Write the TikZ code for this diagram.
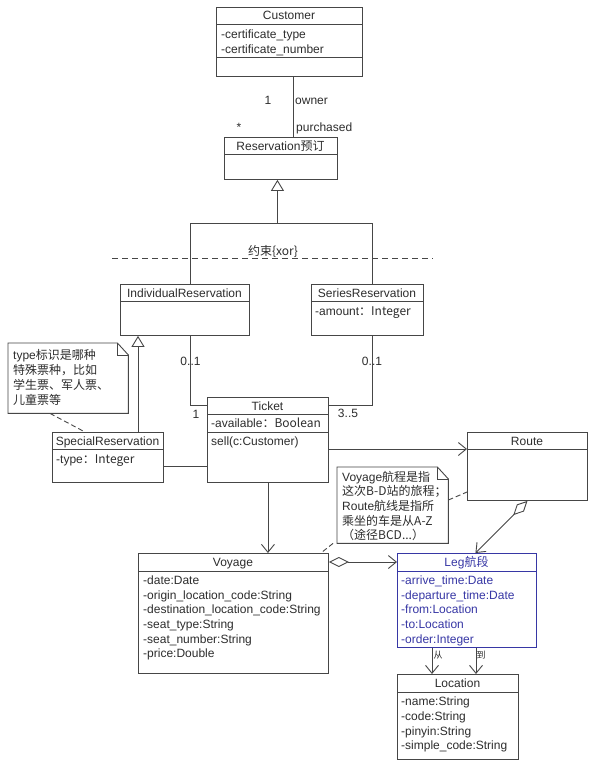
\documentclass[tikz,border=0pt]{standalone}
\usepackage{fontspec}
\setmainfont{Liberation Sans}
\newfontfamily\cjk{Noto Sans CJK SC}
\usetikzlibrary{arrows.meta,calc}
\definecolor{lc}{RGB}{70,70,70}
\definecolor{tc}{RGB}{45,45,45}
\definecolor{legc}{RGB}{55,55,165}
\newcommand\hdiv[3][lc]{\draw[draw=#1,line width=0.9pt] ([yshift=-#3pt]#2.north west) -- ([yshift=-#3pt]#2.north east);}
\begin{document}
\begin{tikzpicture}[x=1pt,y=-1pt,
  box/.style={draw=lc,line width=0.9pt,fill=white,anchor=north west,inner sep=0pt},
  txt/.style={inner sep=0pt,font=\fontsize{12}{14}\selectfont,text=tc,anchor=west,text height=10pt,text depth=2pt},
  ttl/.style={txt,anchor=center},
  lbl/.style={txt,anchor=center},
  conn/.style={draw=lc,line width=0.9pt},
  oarrow/.style={conn,-{Straight Barb[length=8pt,width=13pt,line width=0.9pt]}},
  gen/.style={conn,-{Triangle[open,length=11pt,width=13pt,fill=white,line width=0.9pt]}},
  aggr/.style={conn,{Diamond[open,length=20pt,width=10pt,fill=white,line width=0.9pt]}-{Straight Barb[length=8pt,width=13pt,line width=0.9pt]}},
  notedash/.style={draw=lc,line width=0.9pt,dash pattern=on 5pt off 3pt},
  notebox/.style={anchor=north west,inner sep=0pt}
]
\fill[white] (0,0) rectangle (593,768);
\useasboundingbox (0,0) rectangle (593,768);

% ---------- Customer
\node[box,minimum width=146pt,minimum height=69pt] (cust) at (216,7) {};
\hdiv{cust}{17}\hdiv{cust}{50}
\node[ttl] (custT) at (289,15.5) {Customer};
\node[txt] (custA1) at (221,34) {-certificate\_type};
\node[txt] (custA2) at (221,49) {-certificate\_number};

% ---------- Reservation
\node[box,minimum width=113pt,minimum height=42pt] (res) at (224,137) {};
\hdiv{res}{17}
\node[ttl] (resT) at (280.5,146) {Reservation\cjk{预订}};

% ---------- IndividualReservation
\node[box,minimum width=129pt,minimum height=51pt] (ind) at (120,284) {};
\hdiv{ind}{17}
\node[ttl] (indT) at (184.5,293) {IndividualReservation};

% ---------- SeriesReservation
\node[box,minimum width=112pt,minimum height=51pt] (ser) at (311,284) {};
\hdiv{ser}{17}
\node[ttl] (serT) at (367,293) {SeriesReservation};
\node[txt] (serA1) at (315,311) {-amount\cjk{：}Integer};

% ---------- Ticket
\node[box,minimum width=121pt,minimum height=85pt] (ticket) at (207,397) {};
\hdiv{ticket}{17}\hdiv{ticket}{35}
\node[ttl] (ticketT) at (267.5,406) {Ticket};
\node[txt] (ticketA1) at (211,423) {-available\cjk{：}Boolean};
\node[txt] (ticketM1) at (211,441) {sell(c:Customer)};

% ---------- SpecialReservation
\node[box,minimum width=111pt,minimum height=50pt] (spec) at (52,432) {};
\hdiv{spec}{17}
\node[ttl] (specT) at (107.5,441) {SpecialReservation};
\node[txt] (specA1) at (56,459) {-type\cjk{：}Integer};

% ---------- Route
\node[box,minimum width=120pt,minimum height=68pt] (route) at (467,432) {};
\hdiv{route}{17}
\node[ttl] (routeT) at (527,441) {Route};

% ---------- Voyage
\node[box,minimum width=190pt,minimum height=120pt] (voy) at (138,553) {};
\hdiv{voy}{18}
\node[ttl] (voyT) at (233,562.5) {Voyage};
\node[txt] (voyA1) at (143,580) {-date:Date};
\node[txt] (voyA2) at (143,595) {-origin\_location\_code:String};
\node[txt] (voyA3) at (143,609.5) {-destination\_location\_code:String};
\node[txt] (voyA4) at (143,624) {-seat\_type:String};
\node[txt] (voyA5) at (143,639) {-seat\_number:String};
\node[txt] (voyA6) at (143,653.5) {-price:Double};

% ---------- Leg
\node[box,draw=legc,minimum width=139pt,minimum height=94pt] (leg) at (397,553) {};
\hdiv[legc]{leg}{18}
\node[ttl,text=legc] (legT) at (466.5,562.5) {Leg\cjk{航段}};
\node[txt,text=legc] (legA1) at (401,580) {-arrive\_time:Date};
\node[txt,text=legc] (legA2) at (401,595) {-departure\_time:Date};
\node[txt,text=legc] (legA3) at (401,609.5) {-from:Location};
\node[txt,text=legc] (legA4) at (401,624) {-to:Location};
\node[txt,text=legc] (legA5) at (401,639) {-order:Integer};

% ---------- Location
\node[box,minimum width=121pt,minimum height=85pt] (loc) at (397,674) {};
\hdiv{loc}{18}
\node[ttl] (locT) at (457.5,683.5) {Location};
\node[txt] (locA1) at (401,701) {-name:String};
\node[txt] (locA2) at (401,716) {-code:String};
\node[txt] (locA3) at (401,731) {-pinyin:String};
\node[txt] (locA4) at (401,745.5) {-simple\_code:String};

% ---------- Notes
\node[notebox,minimum width=120pt,minimum height=70pt] (n1) at (8,343) {};
\draw[conn,fill=white] (n1.north west) -- ([xshift=-11pt]n1.north east) -- ([yshift=-12pt]n1.north east) -- (n1.south east) -- (n1.south west) -- cycle;
\draw[conn] ([xshift=-11pt]n1.north east) |- ([yshift=-12pt]n1.north east);
\node[txt] (n1a) at (13,355.5) {type\cjk{标识是哪种}};
\node[txt] (n1b) at (13,370.5) {\cjk{特殊票种，比如}};
\node[txt] (n1c) at (13,385.5) {\cjk{学生票、军人票、}};
\node[txt] (n1d) at (13,400) {\cjk{儿童票等}};

\node[notebox,minimum width=111pt,minimum height=76pt] (n2) at (337,467) {};
\draw[conn,fill=white] (n2.north west) -- ([xshift=-11pt]n2.north east) -- ([yshift=-12pt]n2.north east) -- (n2.south east) -- (n2.south west) -- cycle;
\draw[conn] ([xshift=-11pt]n2.north east) |- ([yshift=-12pt]n2.north east);
\node[txt] (n2a) at (342,477) {Voyage\cjk{航程是指}};
\node[txt] (n2b) at (342,491.5) {\cjk{这次}B-D\cjk{站的旅程；}};
\node[txt] (n2c) at (342,506) {Route\cjk{航线是指所}};
\node[txt] (n2d) at (342,521) {\cjk{乘坐的车是从}A-Z};
\node[txt] (n2e) at (342,535.5) {\cjk{（途径}BCD...\cjk{）}};

% ---------- Connectors
% Customer -- Reservation
\draw[conn] ([xshift=4pt]cust.south) -- ([xshift=12.5pt]res.north);
\node[lbl] (m1) at (268,100) {1};
\node[txt] (m2) at (295,100) {owner};
\node[lbl] (m3) at (239,127) {*};
\node[txt] (m4) at (296,127) {purchased};

% Generalization Reservation <- Individual / Series
\coordinate (gj) at ([xshift=-3.5pt,yshift=-44pt]res.south);
\draw[conn] ([xshift=5.5pt]ind.north) |- (gj) -| ([xshift=5pt]ser.north);
\draw[gen] (gj) -- (gj |- res.south);

% xor constraint
\coordinate (xa) at (112,258);
\coordinate (xb) at (433,258);
\draw[draw=lc,line width=0.9pt,dash pattern=on 6pt off 4pt] (xa) -- (xb);
\node[lbl] (xorL) at (273,251) {\cjk{约束}\{xor\}};

% Individual -- Ticket
\draw[conn] ([xshift=5.5pt]ind.south) |- ([yshift=-8pt]ticket.north west);
\node[lbl] (m5) at (190.5,361) {0..1};
\node[lbl] (m6) at (196,414) {1};
% Series -- Ticket
\draw[conn] ([xshift=5pt]ser.south) |- ([yshift=-8pt]ticket.north east);
\node[lbl] (m7) at (372,361) {0..1};
\node[lbl] (m8) at (348,413) {3..5};

% Special -> Individual (generalization)
\draw[gen] ([xshift=86pt]spec.north west) -- ([xshift=18pt]ind.south west);
% Special -- Ticket
\draw[conn] ([yshift=-9pt]spec.east) -- ([yshift=-9pt]spec.east -| ticket.west);
% Ticket -> Route
\draw[oarrow] ([yshift=-52pt]ticket.north east) -- ([yshift=-52pt]ticket.north east -| route.west);
% Ticket -> Voyage
\draw[oarrow] (ticket.south) -- (ticket.south |- voy.north);
% Voyage <>-> Leg
\draw[aggr] ([yshift=-9pt]voy.north east) -- ([yshift=-9pt]voy.north east -| leg.west);
% Route <>-> Leg
\draw[aggr] (route.south) -- ([xshift=8.5pt]leg.north);
% Leg -> Location
\draw[oarrow] ([xshift=35pt]leg.south west) -- ([xshift=35pt]leg.south west |- loc.north);
\draw[oarrow] ([xshift=79pt]leg.south west) -- ([xshift=79pt]leg.south west |- loc.north);
\node[lbl,font=\cjk\fontsize{9}{10}\selectfont] (from) at (438,654) {从};
\node[lbl,font=\cjk\fontsize{9}{10}\selectfont] (to) at (481,654) {到};

% Note anchors
\draw[notedash] ([xshift=42pt]n1.south west) -- ([xshift=33pt]spec.north west);
\draw[notedash] ([xshift=-4pt]n2.south west) -- ([xshift=-8pt]voy.north east);
\draw[notedash] ([yshift=-33pt]n2.north east) -- ([yshift=-60pt]route.north west);
\end{tikzpicture}
\end{document}
